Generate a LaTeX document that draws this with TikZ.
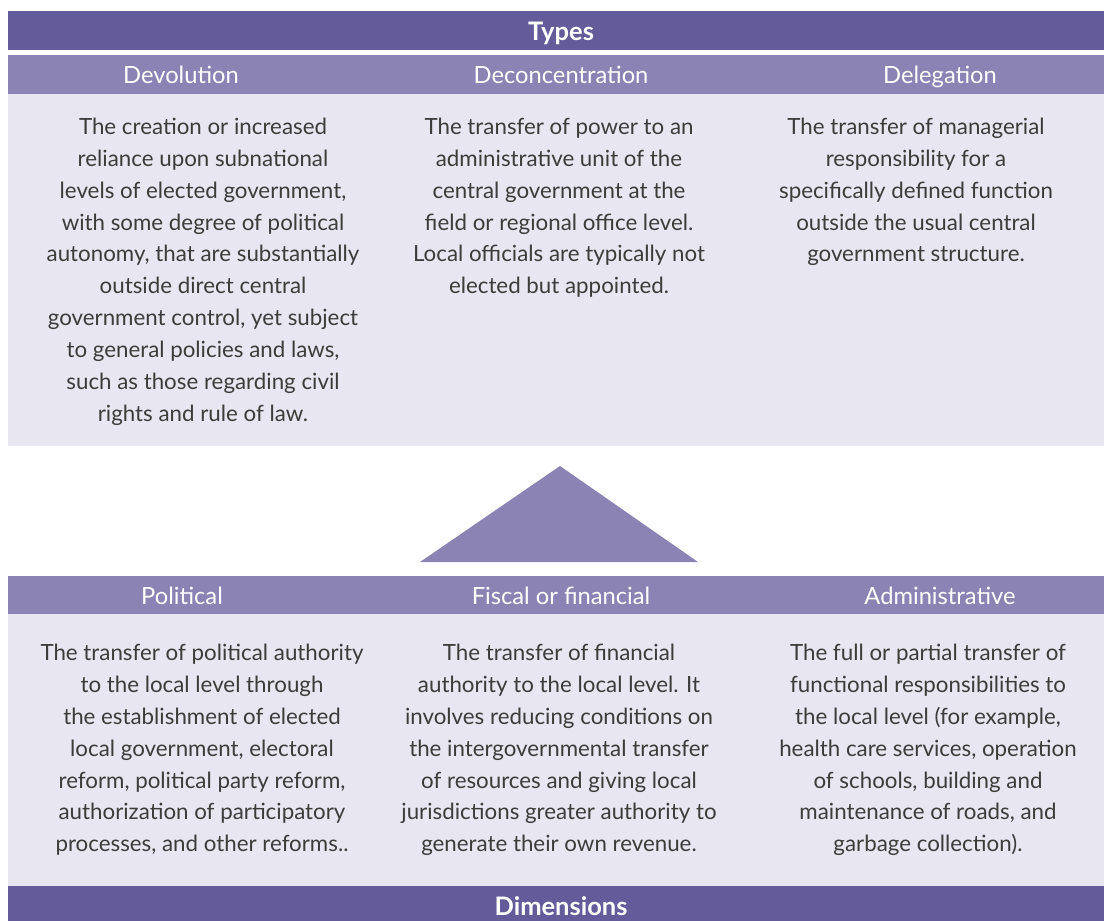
\documentclass[tikz,border=0pt]{standalone}
\usepackage{fontspec}
\setmainfont{Lato}
\definecolor{darkband}{HTML}{645C9A}
\definecolor{midband}{HTML}{8A83B4}
\definecolor{lightpanel}{HTML}{E8E6F0}
\definecolor{bodytext}{HTML}{3C3C3C}
\tikzstyle{title bar}=[fill=darkband,minimum width=22.08cm,minimum height=0.78cm,inner sep=0pt]
\tikzstyle{head bar}=[fill=midband,minimum width=22.08cm,minimum height=0.78cm,inner sep=0pt]
\tikzstyle{panel}=[fill=lightpanel,minimum width=22.08cm,inner sep=0pt]
\tikzstyle{title}=[text=white,font=\bfseries\fontsize{14.5}{17}\selectfont,anchor=base,inner sep=0pt]
\tikzstyle{label}=[text=white,font=\fontsize{13.5}{16}\selectfont,anchor=base,inner sep=0pt]
\tikzstyle{desc}=[text=bodytext,font=\fontsize{12.7}{18.1}\selectfont,align=center,anchor=north,inner sep=0pt]

\begin{document}
\begin{tikzpicture}[x=0.02cm,y=-0.02cm]
\useasboundingbox (0,0) rectangle (1104,920);
% types
\node[title bar] (typesbar) at (560,30.5) {};
\node[title] (types) at (561,40) {Types};
\node[head bar] (typebar) at (560,74.5) {};
\node[panel,minimum height=7.04cm] (typepanel) at (560,270) {};
\foreach \pos/\name/\head in {{(181,83)/devo/Devolution}, {(561,83)/deco/Deconcentration},
                              {(940,83)/dele/Delegation}}{
  \node[label] (\name) at \pos {\head};
}
\node[desc] (devotext) at (203,118) {The creation or increased\\reliance upon subnational\\levels of elected government,\\with some degree of political\\autonomy, that are substantially\\outside direct central\\government control, yet subject\\to general policies and laws,\\such as those regarding civil\\rights and rule of law.};
\node[desc] (decotext) at (559,118) {The transfer of power to an\\administrative unit of the\\central government at the\\field or regional office level.\\Local officials are typically not\\elected but appointed.};
\node[desc] (deletext) at (916,118) {The transfer of managerial\\responsibility for a\\specifically defined function\\outside the usual central\\government structure.};
% pointer
\fill[midband] (420,562) -- (560,466) -- (698,562) -- cycle;
% dimensions
\node[head bar] (dimbar) at (560,595) {};
\node[panel,minimum height=5.44cm] (dimpanel) at (560,750) {};
\node[title bar,minimum height=0.88cm] (dimsbar) at (560,908) {};
\node[title] (dims) at (561,915) {Dimensions};
\foreach \pos/\name/\head in {{(182,604)/poli/Political}, {(561,604)/fisc/Fiscal or financial},
                              {(940,604)/admi/Administrative}}{
  \node[label] (\name) at \pos {\head};
}
\node[desc] (politext) at (202,644) {The transfer of political authority\\to the local level through\\the establishment of elected\\local government, electoral\\reform, political party reform,\\authorization of participatory\\processes, and other reforms..};
\node[desc] (fisctext) at (559,644) {The transfer of financial\\authority to the local level. It\\involves reducing conditions on\\the intergovernmental transfer\\of resources and giving local\\jurisdictions greater authority to\\generate their own revenue.};
\node[desc] (admitext) at (928,644) {The full or partial transfer of\\functional responsibilities to\\the local level (for example,\\health care services, operation\\of schools, building and\\maintenance of roads, and\\garbage collection).};
\end{tikzpicture}
\end{document}
